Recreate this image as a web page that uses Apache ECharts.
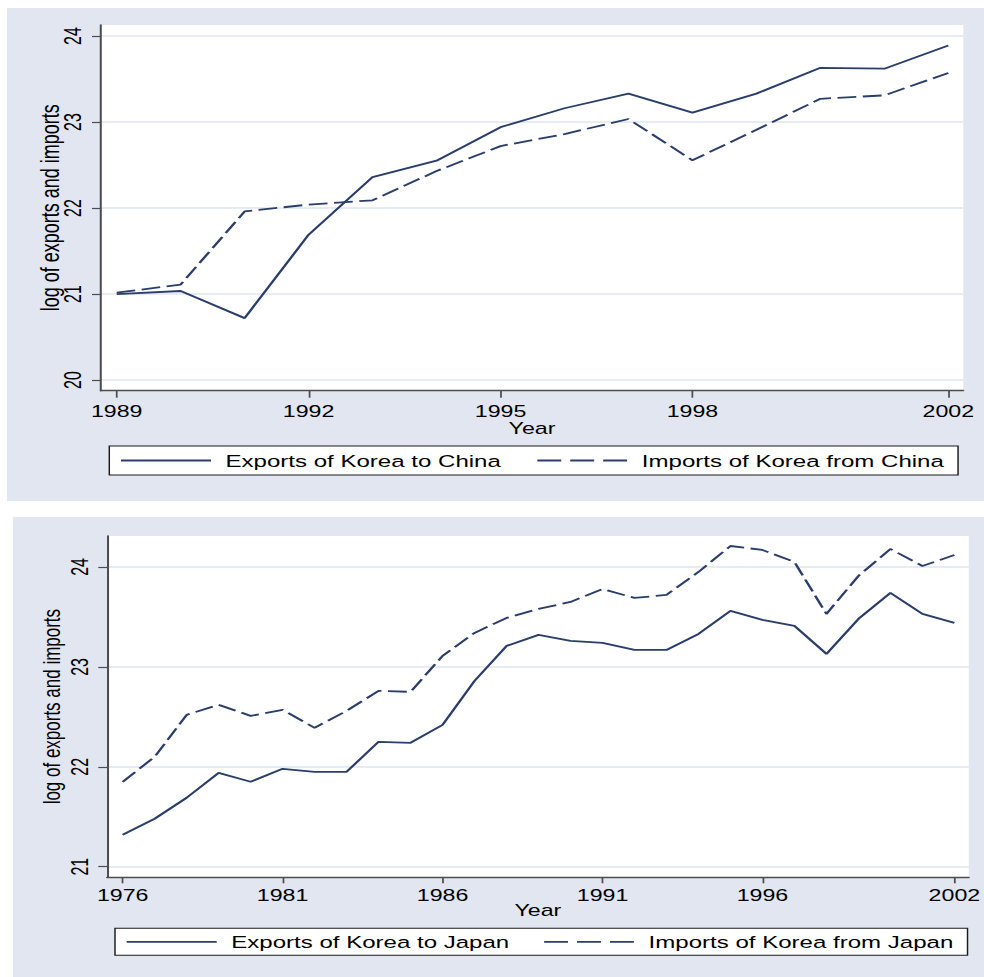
<!DOCTYPE html>
<html>
<head>
<meta charset="utf-8">
<title>Korea trade with China and Japan</title>
<script src="https://cdn.jsdelivr.net/npm/echarts@6/dist/echarts.min.js"></script>
<style>
  html, body { margin: 0; padding: 0; background: #ffffff; width: 984px; height: 977px; overflow: hidden; }
  .panel { position: absolute; background: #e1e6f0; }
  #chart { position: absolute; left: 0; top: 0; height: 977px; transform-origin: 0 0; }
</style>
</head>
<body>
<div class="panel" style="left:7px; top:8px; width:977px; height:493px;"></div>
<div class="panel" style="left:13px; top:517px; width:971px; height:460px;"></div>
<div id="chart"></div>
<script>
// ---- Korea / China (log values) ----
const chinaYears   = [1989, 1990, 1991, 1992, 1993, 1994, 1995, 1996, 1997, 1998, 1999, 2000, 2001, 2002];
const chinaExports = [21.00, 21.035, 20.72, 21.69, 22.36, 22.55, 22.94, 23.16, 23.33, 23.11, 23.33, 23.63, 23.62, 23.89];
const chinaImports = [21.015, 21.11, 21.96, 22.04, 22.09, 22.43, 22.72, 22.86, 23.035, 22.555, 22.91, 23.27, 23.31, 23.57];
const chinaYearTicks  = [1989, 1992, 1995, 1998, 2002];
const chinaValueTicks = [20, 21, 22, 23, 24];

// ---- Korea / Japan (log values) ----
const japanYears   = [1976, 1977, 1978, 1979, 1980, 1981, 1982, 1983, 1984, 1985, 1986, 1987, 1988, 1989,
                      1990, 1991, 1992, 1993, 1994, 1995, 1996, 1997, 1998, 1999, 2000, 2001, 2002];
const japanExports = [21.32, 21.48, 21.69, 21.94, 21.85, 21.98, 21.95, 21.95, 22.25, 22.24, 22.42, 22.86, 23.21, 23.32,
                      23.26, 23.24, 23.17, 23.17, 23.33, 23.56, 23.47, 23.41, 23.13, 23.48, 23.74, 23.53, 23.44];
const japanImports = [21.85, 22.10, 22.52, 22.62, 22.51, 22.57, 22.39, 22.56, 22.76, 22.75, 23.11, 23.34, 23.49, 23.58,
                      23.65, 23.78, 23.69, 23.72, 23.95, 24.21, 24.17, 24.05, 23.53, 23.91, 24.18, 24.01, 24.12];
const japanYearTicks  = [1976, 1981, 1986, 1991, 1996, 2002];
const japanValueTicks = [21, 22, 23, 24];

const seriesNames = {
  chinaExp: 'Exports of Korea to China',
  chinaImp: 'Imports of Korea from China',
  japanExp: 'Exports of Korea to Japan',
  japanImp: 'Imports of Korea from Japan'
};

// The graph is laid out narrow and widened horizontally (Stata-style wide export).
const SX = 1.45;
const W = 984;
const dom = document.getElementById('chart');
dom.style.width = (W / SX) + 'px';
dom.style.transform = 'scaleX(' + SX + ')';

const sx = v => v / SX;
const pairs = (xs, ys) => xs.map((x, i) => [x, ys[i]]);

const FONT = 'Liberation Sans';
const NAVY = '#2a3d6c';
const AXIS = '#4d4d4d';
const GRIDLINE = '#dfe5f0';
const NO_MARKER = { color: 'rgba(0,0,0,0)', borderWidth: 0, opacity: 0 };

function xAxisCfg(grid, min, max, ticks, tickLen, margin, nameGap) {
  return {
    type: 'value', gridIndex: grid, min: min, max: max,
    name: 'Year', nameLocation: 'middle', nameGap: nameGap, nameMoveOverlap: false,
    nameTextStyle: { fontFamily: FONT, fontSize: 16, color: '#000' },
    axisLine: { show: true, lineStyle: { color: AXIS, width: 1.4 } },
    axisTick: { show: true, customValues: ticks, length: tickLen, lineStyle: { color: AXIS, width: 1.2 } },
    axisLabel: { customValues: ticks, margin: margin, fontFamily: FONT, fontSize: 16, color: '#000',
                 formatter: v => String(v) },
    splitLine: { show: false }
  };
}

function yAxisCfg(grid, min, max, ticks, nameGap, nameSize, margin) {
  return {
    type: 'value', gridIndex: grid, min: min, max: max,
    name: 'log of exports and imports', nameLocation: 'middle', nameGap: nameGap, nameMoveOverlap: false,
    nameTextStyle: { fontFamily: FONT, fontSize: nameSize, color: '#000' },
    axisLine: { show: true, lineStyle: { color: AXIS, width: 1.4 } },
    axisTick: { show: true, customValues: ticks, length: 6, lineStyle: { color: AXIS, width: 1.2 } },
    axisLabel: { customValues: ticks, rotate: 90, margin: margin, fontFamily: FONT, fontSize: 16, color: '#000',
                 formatter: v => String(v) },
    splitLine: { show: true, lineStyle: { color: GRIDLINE, width: 1.5 } }
  };
}

function lineSeries(name, xi, data, dashed) {
  return {
    type: 'line', name: name, xAxisIndex: xi, yAxisIndex: xi,
    data: data, symbol: 'none', silent: true,
    lineStyle: { color: NAVY, width: 1.8, type: dashed ? [13, 4.5] : 'solid' },
    itemStyle: { color: NAVY }
  };
}

function legendCfg(names, left, top, pv, gap) {
  return {
    left: left, top: top,
    orient: 'horizontal',
    backgroundColor: '#ffffff',
    borderColor: '#1a1a1a', borderWidth: 1,
    padding: [pv, sx(14), pv, sx(10.4)],
    itemWidth: sx(90), itemHeight: 12, itemGap: gap,
    selectedMode: false,
    itemStyle: NO_MARKER,
    textStyle: { fontFamily: FONT, fontSize: 16.6, color: '#000', lineHeight: 19, padding: [0, 0, 0, 5] },
    data: [
      { name: names[0], itemStyle: NO_MARKER, lineStyle: { color: NAVY, width: 1.8, type: 'solid' } },
      { name: names[1], itemStyle: NO_MARKER, lineStyle: { color: NAVY, width: 1.8, type: [16.5, 6.2] } }
    ]
  };
}

const chart = echarts.init(dom, null, { renderer: 'svg' });
chart.setOption({
  animation: false,
  backgroundColor: 'transparent',
  grid: [
    { left: sx(100.7), top: 25, width: sx(963.3 - 100.7), height: 365.7,
      show: true, backgroundColor: '#ffffff', borderWidth: 0, containLabel: false },
    { left: sx(107), top: 536, width: sx(969.5 - 107), height: 341.3,
      show: true, backgroundColor: '#ffffff', borderWidth: 0, containLabel: false }
  ],
  xAxis: [
    xAxisCfg(0, 1988.75, 2002.234, chinaYearTicks, 7, 12.5, 29.5),
    xAxisCfg(1, 1975.51, 2002.45, japanYearTicks, 6, 10, 25.5)
  ],
  yAxis: [
    yAxisCfg(0, 19.876, 24.128, chinaValueTicks, 26, 18, 11),
    yAxisCfg(1, 20.894, 24.31, japanValueTicks, 30, 17, 10.5)
  ],
  legend: [
    legendCfg([seriesNames.chinaExp, seriesNames.chinaImp], sx(109.3), 446, 5, sx(35)),
    legendCfg([seriesNames.japanExp, seriesNames.japanImp], sx(115), 928.3, 4, sx(33.4))
  ],
  series: [
    lineSeries(seriesNames.chinaExp, 0, pairs(chinaYears, chinaExports), false),
    lineSeries(seriesNames.chinaImp, 0, pairs(chinaYears, chinaImports), true),
    lineSeries(seriesNames.japanExp, 1, pairs(japanYears, japanExports), false),
    lineSeries(seriesNames.japanImp, 1, pairs(japanYears, japanImports), true)
  ]
});
</script>
</body>
</html>
